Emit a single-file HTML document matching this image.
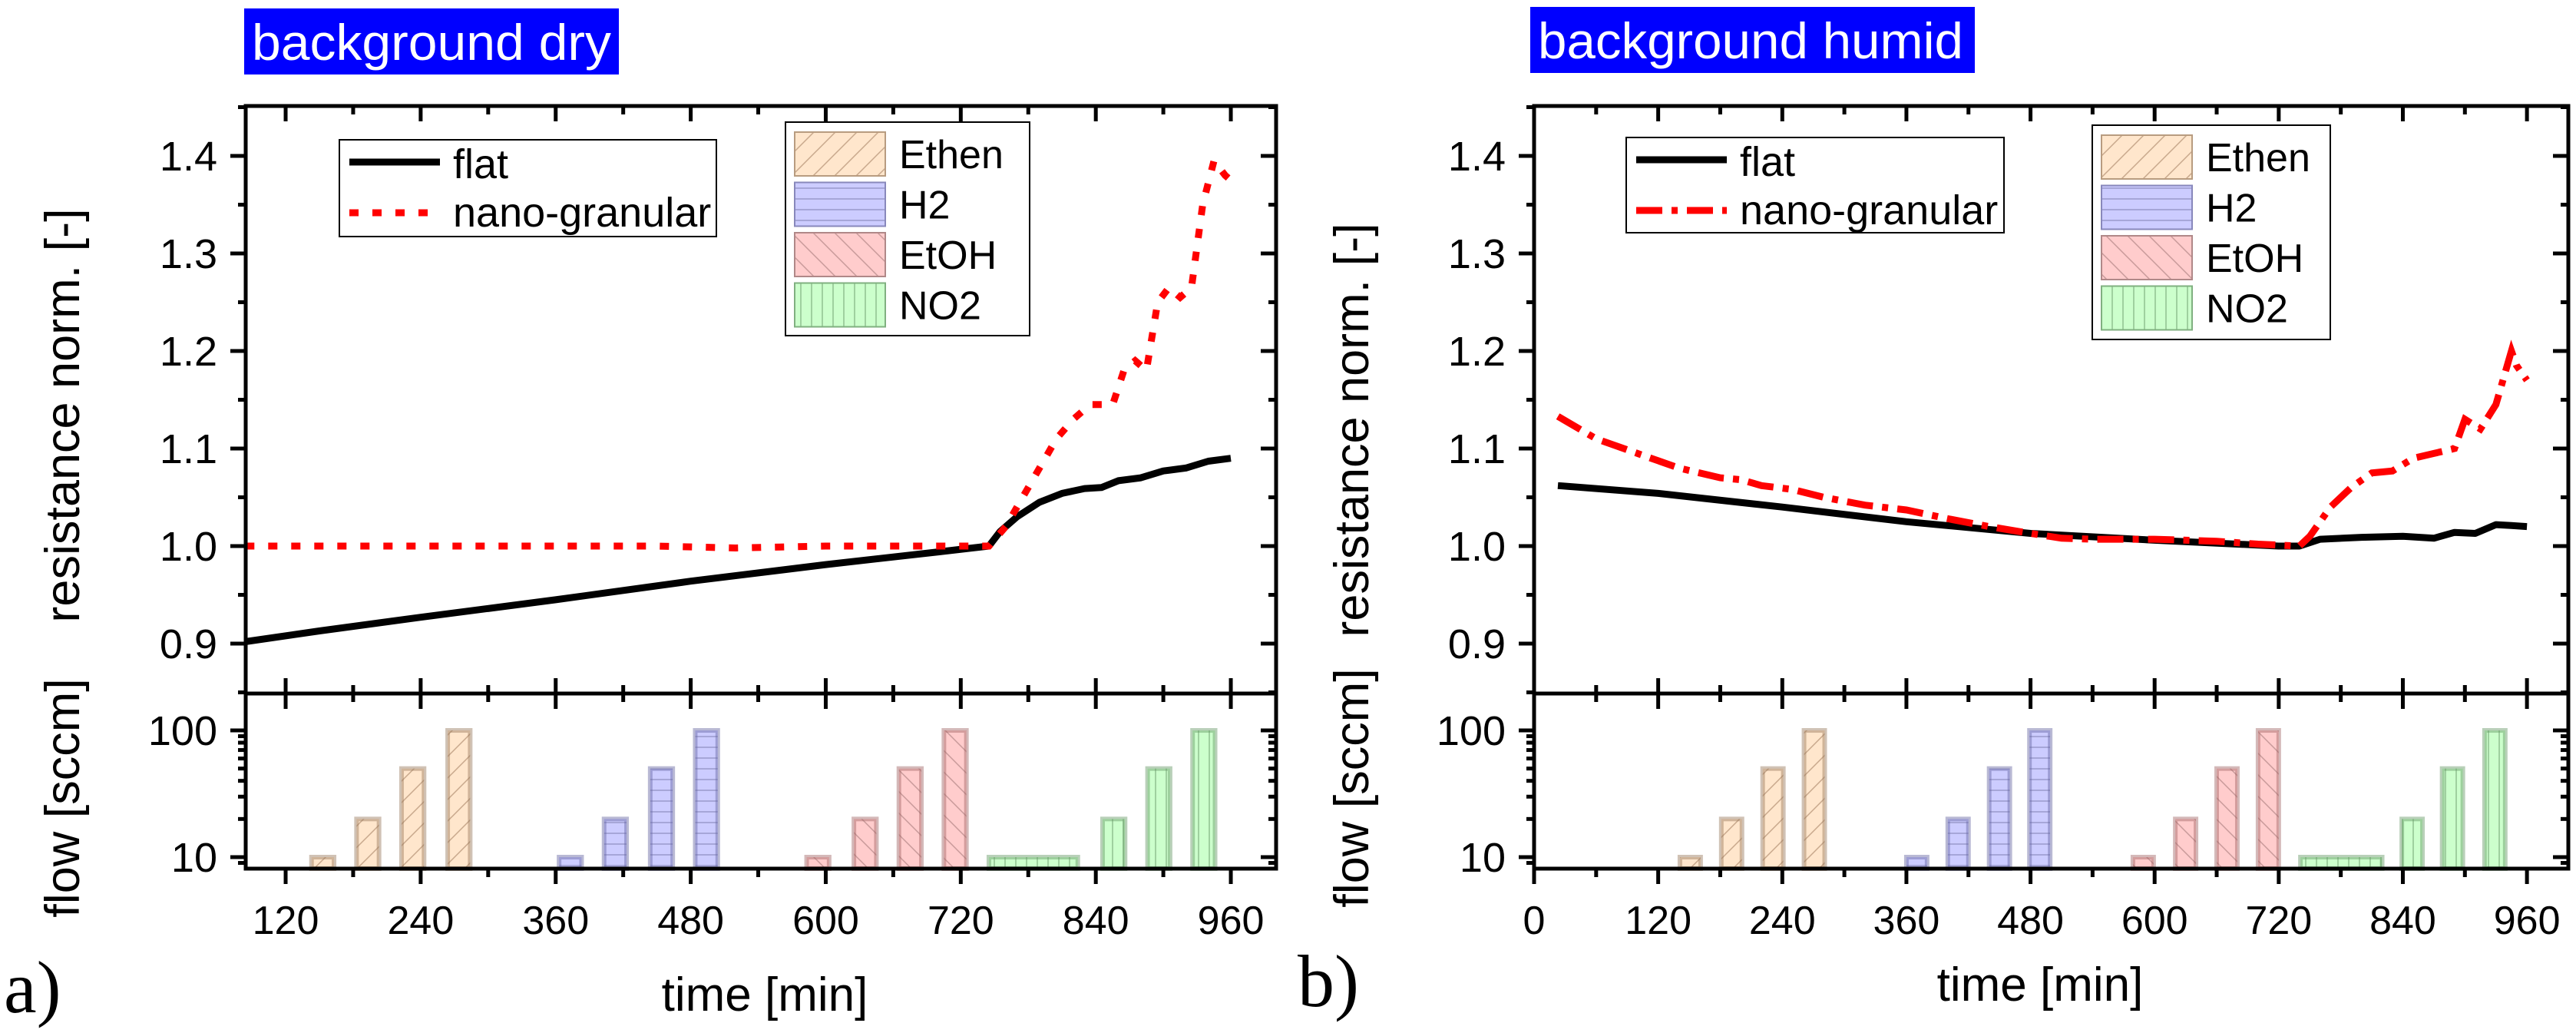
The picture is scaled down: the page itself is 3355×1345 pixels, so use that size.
<!DOCTYPE html>
<html><head><meta charset="utf-8"><style>
html,body{margin:0;padding:0;background:#fff;}
svg{display:block;}
text{font-family:"Liberation Sans",sans-serif;}
</style></head><body>
<svg id="fig" width="3355" height="1345" viewBox="0 0 3355 1345" xmlns="http://www.w3.org/2000/svg">
<defs>
<pattern id="pEthen" patternUnits="userSpaceOnUse" width="28" height="28"><rect width="28" height="28" fill="#FFE6CC"/><path d="M-7,7 L7,-7 M0,28 L28,0 M21,35 L35,21" stroke="#c8a88c" stroke-width="1.5"/></pattern>
<pattern id="pH2" patternUnits="userSpaceOnUse" width="14" height="14"><rect width="14" height="14" fill="#CCCCFF"/><path d="M0,7 L14,7" stroke="#9a9acc" stroke-width="1.5"/></pattern>
<pattern id="pEtOH" patternUnits="userSpaceOnUse" width="28" height="28"><rect width="28" height="28" fill="#FFCCCC"/><path d="M-7,21 L7,35 M0,0 L28,28 M21,-7 L35,7" stroke="#c89a9a" stroke-width="1.5"/></pattern>
<pattern id="pNO2" patternUnits="userSpaceOnUse" width="14" height="14"><rect width="14" height="14" fill="#CCFFCC"/><path d="M7,0 L7,14" stroke="#90c090" stroke-width="1.5"/></pattern>
</defs>
</svg>
<script>
// ---- data ----
const gasNames = ["Ethen","H2","EtOH","NO2"];
const barGasA = [0,0,0,0,1,1,1,1,2,2,2,2,3,3,3,3];
const barStartA = [143,183,223,264,363,403,444,484,583,625,665,705,745,846,886,926];
const barEndA   = [163,203,243,284,383,423,464,504,603,645,685,725,824,866,906,946];
const barFlowA  = [10,20,50,100,10,20,50,100,10,20,50,100,10,20,50,100];
const barGasB = [0,0,0,0,1,1,1,1,2,2,2,2,3,3,3,3];
const barStartB = [141,181,221,261,360,400,440,479,579,620,660,700,741,839,878,919];
const barEndB   = [161,201,241,281,380,420,460,499,599,640,680,720,820,859,898,939];
const barFlowB  = [10,20,50,100,10,20,50,100,10,20,50,100,10,20,50,100];
const flatTimeA = [84,150,240,360,480,600,700,745,755,770,790,810,830,845,860,880,900,920,940,960];
const flatValA  = [0.902,0.913,0.927,0.945,0.964,0.981,0.994,1.0,1.015,1.03,1.045,1.054,1.059,1.06,1.067,1.07,1.077,1.08,1.087,1.09];
const nanoTimeA = [84,120,300,450,520,600,745,760,775,790,805,820,835,855,865,875,885,895,905,915,925,935,945,955,960];
const nanoValA  = [1.0,1.0,1.0,1.0,0.998,1.0,1.0,1.02,1.05,1.08,1.11,1.13,1.145,1.145,1.18,1.19,1.18,1.25,1.265,1.255,1.265,1.35,1.395,1.38,1.375];
const flatTimeB = [23,120,240,360,480,600,720,740,760,800,840,870,890,910,930,945,960];
const flatValB  = [1.062,1.054,1.040,1.025,1.013,1.006,1.0,1.0,1.007,1.009,1.01,1.008,1.014,1.013,1.022,1.021,1.02];
const nanoTimeB = [23,60,100,140,180,200,220,250,280,320,360,400,440,480,510,540,600,660,700,740,750,770,790,810,830,850,870,890,900,915,930,945,950,960];
const nanoValB  = [1.133,1.11,1.095,1.08,1.07,1.068,1.062,1.058,1.05,1.042,1.037,1.028,1.02,1.013,1.008,1.007,1.007,1.005,1.002,1.0,1.01,1.04,1.06,1.075,1.077,1.09,1.095,1.10,1.13,1.12,1.145,1.2,1.185,1.17];
const yTicks = [0.9,1.0,1.1,1.2,1.3,1.4];
const yTickLabels = ["0.9","1.0","1.1","1.2","1.3","1.4"];
const logTicks = [10,100];
const logTickLabels = ["10","100"];

const NS="http://www.w3.org/2000/svg";
const svg=document.getElementById('fig');
function el(tag,attrs,parent){const e=document.createElementNS(NS,tag);for(const k in attrs)e.setAttribute(k,attrs[k]);(parent||svg).appendChild(e);return e;}
const fills=["url(#pEthen)","url(#pH2)","url(#pEtOH)","url(#pNO2)"];
const edges=["rgba(150,120,90,0.45)","rgba(100,100,160,0.45)","rgba(160,100,100,0.45)","rgba(100,150,100,0.45)"];
const TOP=138,SEP=903,BOT=1131;
function yMain(v){return 711-(v-1)*1270;}
function yLog(v){return 1116-(Math.log10(v)-1)*165;}

function panel(p){
  const g=el('g',{});
  
  
  const L=p.L,R=p.R;
  const xs=t=>L+(t-p.x0)*p.k;
  // bars
  for(let i=0;i<p.bs.length;i++){
    const x1=xs(p.bs[i]),x2=xs(p.be[i]),y=yLog(p.bf[i]);
    const r=el('rect',{x:x1,y:y,width:x2-x1,height:BOT-y,fill:fills[p.bg[i]],stroke:edges[p.bg[i]],'stroke-width':6},g);
    
    
  }
  // lines
  const mk=(ts,vs)=>ts.map((t,i)=>(i?'L':'M')+xs(t).toFixed(1)+','+yMain(vs[i]).toFixed(1)).join(' ');
  const fl=el('path',{d:mk(p.ft,p.fv),fill:'none',stroke:'#000','stroke-width':9,'stroke-linejoin':'round'},g);
  
  
  const nl=el('path',{d:mk(p.nt,p.nv),fill:'none',stroke:'#f00','stroke-width':9,'stroke-dasharray':p.dash},g);
  
  
  // frame
  const ax=el('g',{stroke:'#000','stroke-width':5,fill:'none'},g);
  
  
  el('rect',{x:L,y:TOP,width:R-L,height:BOT-TOP},ax);
  el('line',{x1:L,y1:SEP,x2:R,y2:SEP},ax);
  // x ticks
  for(let t=0;t<=p.x1;t+=60){
    if(t<p.x0)continue;
    const x=xs(t),mj=(t%120===0),len=mj?20:11;
    el('line',{x1:x,y1:TOP,x2:x,y2:TOP+len},ax);
    el('line',{x1:x,y1:SEP-len,x2:x,y2:SEP+len},ax);
    el('line',{x1:x,y1:BOT,x2:x,y2:BOT+len},ax);
    if(mj){const tx=el('text',{x:x,y:1216,'font-size':52,'text-anchor':'middle'},g);tx.textContent=String(t);
      
      }
  }
  // y ticks main
  for(let v=0.85;v<1.451;v+=0.05){
    const y=yMain(v),mj=Math.abs(Math.round(v*10)-v*10)<1e-6,len=mj?20:10;
    el('line',{x1:L-len,y1:y,x2:L,y2:y},ax);
    el('line',{x1:R-len,y1:y,x2:R,y2:y},ax);
  }
  yTicks.forEach((v,i)=>{const tx=el('text',{x:L-37,y:yMain(v)+19,'font-size':54,'text-anchor':'end'},g);tx.textContent=yTickLabels[i];
    
    });
  // log ticks
  [9,20,30,40,50,60,70,80,90].forEach(v=>{const y=yLog(v);el('line',{x1:L-10,y1:y,x2:L,y2:y},ax);el('line',{x1:R-10,y1:y,x2:R,y2:y},ax);});
  logTicks.forEach((v,i)=>{const y=yLog(v);el('line',{x1:L-20,y1:y,x2:L,y2:y},ax);el('line',{x1:R-20,y1:y,x2:R,y2:y},ax);
    const tx=el('text',{x:L-37,y:y+19,'font-size':54,'text-anchor':'end'},g);tx.textContent=logTickLabels[i];
    
    });
  // titles
  const t1=el('text',{transform:`translate(${p.yl},${p.ym}) rotate(-90)`,'font-size':63,'text-anchor':'middle'},g);t1.textContent='resistance norm. [-]';
  
  
  const t2=el('text',{transform:`translate(${p.yl},${p.yf}) rotate(-90)`,'font-size':63,'text-anchor':'middle'},g);t2.textContent='flow [sccm]';
  
  
  const t3=el('text',{x:p.xt,y:p.xb,'font-size':62,'text-anchor':'middle'},g);t3.textContent='time [min]';
  
  
  const t4=el('text',{x:p.lx,y:p.lb,'font-size':96,'style':'font-family:"Liberation Serif",serif'},g);t4.textContent=p.letter;
  
  
  // title box
  const tb=el('rect',{x:p.tb[0],y:p.tb[1],width:p.tb[2],height:p.tb[3],fill:'#0000ff'},g);
  
  
  const tt=el('text',{x:p.tb[0]+10,y:p.tb[1]+67,'font-size':66,fill:'#fff',textLength:p.tb[4],lengthAdjust:'spacingAndGlyphs'},g);tt.textContent=p.title;
  
  
  // legend 1
  const lg=el('g',{},g);
  
  
  el('rect',{x:p.lg[0],y:p.lg[1],width:p.lg[2],height:p.lg[3],fill:'#fff',stroke:'#000','stroke-width':2},lg);
  const lx=p.lg[0]+13;
  el('line',{x1:lx,y1:p.lg[1]+29,x2:lx+118,y2:p.lg[1]+29,stroke:'#000','stroke-width':9},lg);
  el('line',{x1:lx,y1:p.lg[1]+95,x2:lx+118,y2:p.lg[1]+95,stroke:'#f00','stroke-width':9,'stroke-dasharray':p.dash},lg);
  const e1=el('text',{x:lx+135,y:p.lg[1]+50,'font-size':54},lg);e1.textContent='flat';
  
  
  const e2=el('text',{x:lx+135,y:p.lg[1]+113,'font-size':54},lg);e2.textContent='nano-granular';
  
  
  // legend 2
  const lg2=el('g',{},g);
  
  
  el('rect',{x:p.gl[0],y:p.gl[1],width:p.gl[2],height:p.gl[3],fill:'#fff',stroke:'#000','stroke-width':2},lg2);
  const lstk=["#b89c80","#8888bb","#b08888","#80b080"];
  gasNames.forEach((n,i)=>{const y=p.gl[1]+13+i*65.5;
    el('rect',{x:p.gl[0]+12,y:y,width:118,height:57,fill:fills[i],stroke:lstk[i],'stroke-width':2},lg2);
    const tx=el('text',{x:p.gl[0]+148,y:y+47,'font-size':52},lg2);tx.textContent=n;
    
    });
}
panel({id:'dry',L:320,R:1662,x0:84.5,x1:1000,k:1.4655,bs:barStartA,be:barEndA,bf:barFlowA,bg:barGasA,
  ft:flatTimeA,fv:flatValA,nt:nanoTimeA,nv:nanoValA,dash:'12 18',yl:103,ym:541,yf:1039,xt:996,xb:1316,
  lx:5,lb:1318,letter:'a)',tb:[318,11,488,86,468],title:'background dry',lg:[442,182,491,126],gl:[1023,159,318,278]});
panel({id:'humid',L:1998,R:3345,x0:0,x1:1000,k:1.347,bs:barStartB,be:barEndB,bf:barFlowB,bg:barGasB,
  ft:flatTimeB,fv:flatValB,nt:nanoTimeB,nv:nanoValB,dash:'34 12 8 12',yl:1782,ym:560,yf:1026,xt:2657,xb:1303,
  lx:1690,lb:1310,letter:'b)',tb:[1993,9,579,86,554],title:'background humid',lg:[2118,179,492,124],gl:[2725,163,310,279]});
</script>
</body></html>
